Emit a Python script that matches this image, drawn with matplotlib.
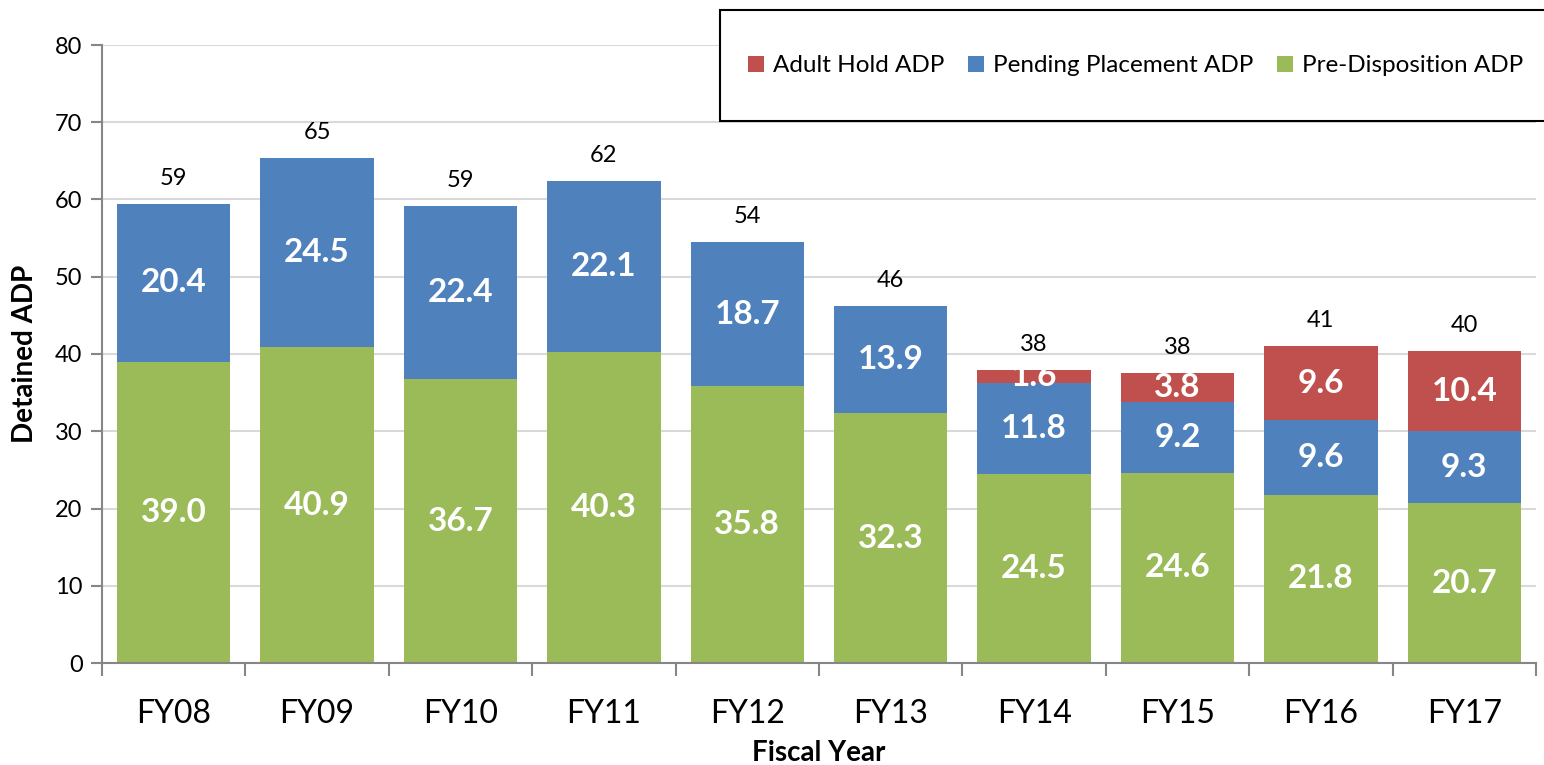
import matplotlib
matplotlib.use("Agg")
import matplotlib.pyplot as plt
import numpy as np
from matplotlib.patches import Rectangle

plt.rcParams["font.family"] = ["Lato", "DejaVu Sans"]

# data
years = ["FY08", "FY09", "FY10", "FY11", "FY12", "FY13", "FY14", "FY15", "FY16", "FY17"]
pre_disposition = [39.0, 40.9, 36.7, 40.3, 35.8, 32.3, 24.5, 24.6, 21.8, 20.7]
pending_placement = [20.4, 24.5, 22.4, 22.1, 18.7, 13.9, 11.8, 9.2, 9.6, 9.3]
adult_hold = [0, 0, 0, 0, 0, 0, 1.6, 3.8, 9.6, 10.4]
totals = [59, 65, 59, 62, 54, 46, 38, 38, 41, 40]

GREEN = "#9BBB59"
BLUE = "#4F81BD"
RED = "#C0504D"
AXIS_GRAY = "#868686"

fig = plt.figure(figsize=(15.44, 7.65), dpi=100)
ax = fig.add_axes([102 / 1544, 1 - 663 / 765, 1434 / 1544, 618 / 765])

x = np.arange(len(years))
pre = np.array(pre_disposition)
pend = np.array(pending_placement)
adult = np.array(adult_hold)
width = 0.79

b1 = ax.bar(x, pre, width, color=GREEN, zorder=2, label="Pre-Disposition ADP")
b2 = ax.bar(x, pend, width, bottom=pre, color=BLUE, zorder=2, label="Pending Placement ADP")
b3 = ax.bar(x, adult, width, bottom=pre + pend, color=RED, zorder=2, label="Adult Hold ADP")

# segment labels
for i in range(len(years)):
    ax.text(x[i], pre[i] / 2, f"{pre[i]:.1f}", ha="center", va="center",
            color="white", fontsize=24, fontweight="bold", zorder=3)
    ax.text(x[i], pre[i] + pend[i] / 2, f"{pend[i]:.1f}", ha="center", va="center",
            color="white", fontsize=24, fontweight="bold", zorder=3)
    if adult[i] > 0:
        ax.text(x[i], pre[i] + pend[i] + adult[i] / 2, f"{adult[i]:.1f}", ha="center",
                va="center", color="white", fontsize=24, fontweight="bold", zorder=3)
    top = pre[i] + pend[i] + adult[i]
    ax.text(x[i], top + 3.3, str(totals[i]), ha="center", va="center",
            color="black", fontsize=17, zorder=3)

ax.set_xlim(-0.5, len(years) - 0.5)
ax.set_ylim(0, 80)
ax.set_yticks(range(0, 81, 10))
ax.yaxis.grid(True, color="#D9D9D9", linewidth=1.5, zorder=0)
ax.set_axisbelow(True)

ax.set_xticks(x)
ax.set_xticklabels(years, fontsize=23)
ax.set_xticks(np.arange(-0.5, len(years), 1.0), minor=True)
ax.tick_params(axis="x", which="major", length=0, pad=26)
ax.tick_params(axis="x", which="minor", length=9, width=1.5, color=AXIS_GRAY)
ax.tick_params(axis="y", length=8, width=1.5, color=AXIS_GRAY, labelsize=17, pad=6)

for side in ["top", "right"]:
    ax.spines[side].set_visible(False)
for side in ["left", "bottom"]:
    ax.spines[side].set_color(AXIS_GRAY)
    ax.spines[side].set_linewidth(1.5)

ax.set_ylabel("Detained ADP", fontsize=20, fontweight="bold", labelpad=12)
ax.set_xlabel("Fiscal Year", fontsize=20, fontweight="bold", labelpad=8)

# legend box sticking off the right edge
box = Rectangle((720 / 1544, 1 - 121 / 765), 0.6, 111 / 765, transform=fig.transFigure,
                facecolor="white", edgecolor="black", linewidth=1.5, zorder=5, clip_on=False)
fig.patches.append(box)
leg = fig.legend(handles=[b3, b2, b1], loc="center left", ncol=3, frameon=False,
                 bbox_to_anchor=(726 / 1544, 1 - 66 / 765), fontsize=17.5,
                 handlelength=0.65, handleheight=0.65, handletextpad=0.4, columnspacing=0.95)
leg.set_zorder(6)

fig.savefig("out.png", dpi=100)
